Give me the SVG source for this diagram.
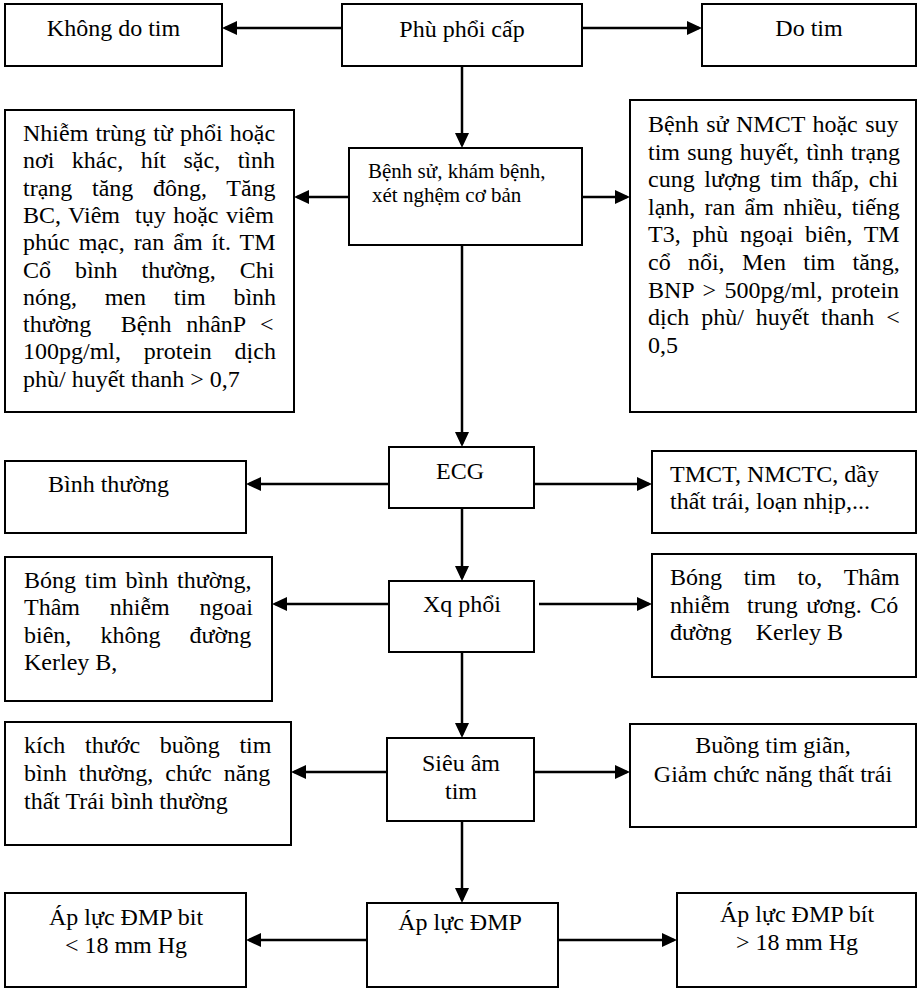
<svg xmlns="http://www.w3.org/2000/svg" width="918" height="989" viewBox="0 0 918 989">
<style>
.box{fill:#fff;stroke:#000;stroke-width:2}
text{font-family:"Liberation Serif","Times New Roman",serif;font-size:24px;fill:#000}
.c{text-anchor:middle}
.s{font-size:21px}
.conn line{stroke:#000;stroke-width:2.5;fill:none;marker-end:url(#ah)}
</style>
<defs>
<marker id="ah" markerUnits="userSpaceOnUse" markerWidth="16" markerHeight="15" refX="12" refY="7" orient="auto">
<path d="M0,0 L15,7 L0,14 z" fill="#000"/>
</marker>
</defs>
<rect width="918" height="989" fill="#fff"/>

<g class="conn">
<line x1="342" y1="28" x2="225" y2="28"/>
<line x1="582" y1="28" x2="699" y2="28"/>
<line x1="462" y1="66" x2="462" y2="145"/>
<line x1="349" y1="197" x2="297" y2="197"/>
<line x1="582" y1="197" x2="627" y2="197"/>
<line x1="462" y1="245" x2="462" y2="444"/>
<line x1="389" y1="484" x2="249" y2="484"/>
<line x1="534" y1="484" x2="649" y2="484"/>
<line x1="462" y1="508" x2="462" y2="578"/>
<line x1="389" y1="604" x2="275" y2="604"/>
<line x1="539" y1="604" x2="649" y2="604"/>
<line x1="462" y1="652" x2="462" y2="735"/>
<line x1="387" y1="772" x2="294" y2="772"/>
<line x1="534" y1="772" x2="627" y2="772"/>
<line x1="462" y1="821" x2="462" y2="900"/>
<line x1="367" y1="940" x2="249" y2="940"/>
<line x1="558" y1="940" x2="674" y2="940"/>
</g>

<g id="khong-do-tim">
<rect class="box" x="5" y="4" width="217" height="62"/>
<text class="c" x="113.5" y="36">Không do tim</text>
</g>
<g id="phu-phoi-cap">
<rect class="box" x="342" y="4" width="240" height="62"/>
<text class="c" x="462" y="37">Phù phổi cấp</text>
</g>
<g id="do-tim">
<rect class="box" x="702" y="4" width="214" height="62"/>
<text class="c" x="809" y="36">Do tim</text>
</g>

<g id="khong-do-tim-chi-tiet">
<rect class="box" x="5" y="110" width="289" height="302"/>
<text x="23" y="141" word-spacing="1.1">Nhiễm trùng từ phổi hoặc</text>
<text x="23" y="168.3" word-spacing="11.5">nơi khác, hít sặc, tình</text>
<text x="23" y="195.6" word-spacing="13.7">trạng tăng đông, Tăng</text>
<text x="23" y="222.9" word-spacing="1.5" xml:space="preserve">BC, Viêm  tụy hoặc viêm</text>
<text x="23" y="250.2" word-spacing="3">phúc mạc, ran ẩm ít. TM</text>
<text x="23" y="277.5" word-spacing="17.9">Cổ bình thường, Chi</text>
<text x="23" y="304.8" word-spacing="21.7">nóng, men tim bình</text>
<text x="23" y="332.1" word-spacing="8.7" xml:space="preserve">thường  Bệnh nhânP &lt;</text>
<text x="23" y="359.4" word-spacing="16.8">100pg/ml, protein dịch</text>
<text x="23" y="386.7">phù/ huyết thanh &gt; 0,7</text>
</g>

<g id="benh-su">
<rect class="box" x="349" y="148" width="233" height="97"/>
<text class="s" x="368" y="178">Bệnh sử, khám bệnh,</text>
<text class="s" x="372" y="202">xét nghệm cơ bản</text>
</g>

<g id="do-tim-chi-tiet">
<rect class="box" x="630" y="100" width="286" height="312"/>
<text x="648" y="132" word-spacing="1.5">Bệnh sử NMCT hoặc suy</text>
<text x="648" y="159.6" word-spacing="1.2">tim sung huyết, tình trạng</text>
<text x="648" y="187.2" word-spacing="3.6">cung lượng tim thấp, chi</text>
<text x="648" y="214.8" word-spacing="3.3">lạnh, ran ẩm nhiều, tiếng</text>
<text x="648" y="242.4" word-spacing="5.7">T3, phù ngoại biên, TM</text>
<text x="648" y="270" word-spacing="11.3">cổ nổi, Men tim tăng,</text>
<text x="648" y="297.6" word-spacing="2.6">BNP &gt; 500pg/ml, protein</text>
<text x="648" y="325.2" word-spacing="5.9">dịch phù/ huyết thanh &lt;</text>
<text x="648" y="352.8">0,5</text>
</g>

<g id="ecg">
<rect class="box" x="389" y="447" width="145" height="61"/>
<text class="c" x="460" y="479">ECG</text>
</g>
<g id="ecg-binh-thuong">
<rect class="box" x="5" y="461" width="241" height="72"/>
<text x="48" y="492">Bình thường</text>
</g>
<g id="ecg-bat-thuong">
<rect class="box" x="652" y="451" width="264" height="82"/>
<text x="670" y="482">TMCT, NMCTC, dầy</text>
<text x="670" y="509">thất trái, loạn nhịp,...</text>
</g>

<g id="xq-phoi">
<rect class="box" x="389" y="581" width="145" height="71"/>
<text class="c" x="462" y="612">Xq phổi</text>
</g>
<g id="xq-khong-do-tim">
<rect class="box" x="5" y="557" width="267" height="144"/>
<text x="24" y="588" word-spacing="2.8">Bóng tim bình thường,</text>
<text x="24" y="615.3" word-spacing="23.8">Thâm nhiễm ngoai</text>
<text x="24" y="642.6" word-spacing="23.1">biên, không đường</text>
<text x="24" y="669.9">Kerley B,</text>
</g>
<g id="xq-do-tim">
<rect class="box" x="652" y="554" width="264" height="123"/>
<text x="670" y="585" word-spacing="15.8">Bóng tim to, Thâm</text>
<text x="670" y="612.5" word-spacing="2.5" xml:space="preserve">nhiễm  trung ương. Có</text>
<text x="670" y="640" xml:space="preserve">đường    Kerley B</text>
</g>

<g id="sieu-am-tim">
<rect class="box" x="387" y="738" width="147" height="83"/>
<text class="c" x="461" y="771">Siêu âm</text>
<text class="c" x="461" y="799">tim</text>
</g>
<g id="sieu-am-binh-thuong">
<rect class="box" x="5" y="722" width="286" height="123"/>
<text x="24" y="753" word-spacing="13.7">kích thước buồng tim</text>
<text x="24" y="781" word-spacing="6.1">bình thường, chức năng</text>
<text x="24" y="809">thất Trái bình thường</text>
</g>
<g id="sieu-am-bat-thuong">
<rect class="box" x="630" y="724" width="286" height="103"/>
<text class="c" x="773" y="753">Buồng tim giãn,</text>
<text class="c" x="773" y="782">Giảm chức năng thất trái</text>
</g>

<g id="ap-luc-dmp">
<rect class="box" x="367" y="903" width="191" height="84"/>
<text class="c" x="460" y="930">Áp lực ĐMP</text>
</g>
<g id="ap-luc-thap">
<rect class="box" x="5" y="893" width="241" height="94"/>
<text class="c" x="126" y="925">Áp lực ĐMP bit</text>
<text class="c" x="126" y="953">&lt; 18 mm Hg</text>
</g>
<g id="ap-luc-cao">
<rect class="box" x="677" y="893" width="239" height="94"/>
<text class="c" x="797" y="922">Áp lực ĐMP bít</text>
<text class="c" x="797" y="950">&gt; 18 mm Hg</text>
</g>
</svg>
